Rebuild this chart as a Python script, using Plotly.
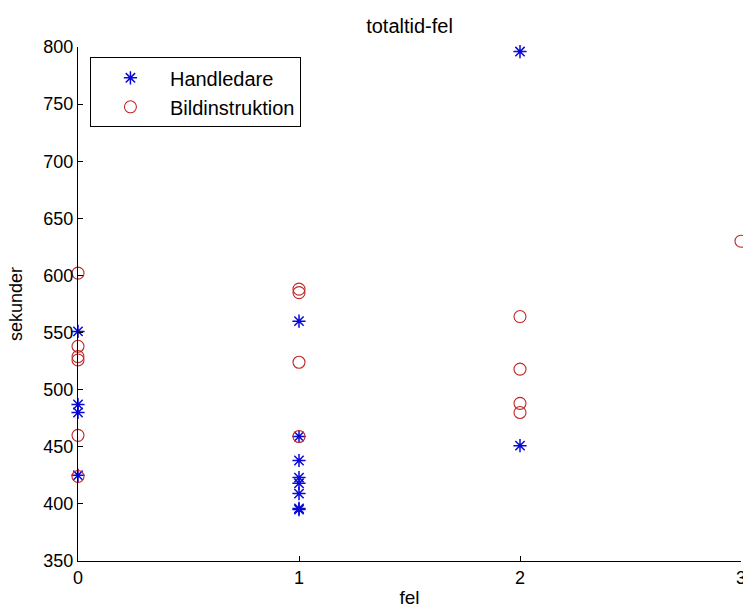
import plotly.graph_objects as go

# Data
handledare_fel = [0, 0, 0, 0, 1, 1, 1, 1, 1, 1, 1, 1, 2, 2]
handledare_tid = [551, 487, 480, 425, 560, 459, 438, 423, 418, 409, 395, 396, 796, 451]

bild_fel = [0, 0, 0, 0, 0, 0, 1, 1, 1, 1, 2, 2, 2, 2, 3]
bild_tid = [602, 538, 529, 526, 460, 424, 588, 585, 524, 459, 564, 518, 488, 480, 630]

x_ticks = [0, 1, 2, 3]
y_ticks = [350, 400, 450, 500, 550, 600, 650, 700, 750, 800]

FONT = "Liberation Sans, Arial, sans-serif"

fig = go.Figure()
fig.add_trace(go.Scatter(
    x=handledare_fel, y=handledare_tid, mode="markers", name="Handledare",
    marker=dict(symbol="asterisk-open", size=11, color="#0a0ad8",
                line=dict(color="#0a0ad8", width=1.5)),
    cliponaxis=False,
))
fig.add_trace(go.Scatter(
    x=bild_fel, y=bild_tid, mode="markers", name="Bildinstruktion",
    marker=dict(symbol="circle-open", size=12, color="#c02828",
                line=dict(color="#c02828", width=1.1)),
    cliponaxis=False,
))

axis_common = dict(
    showline=True, linecolor="black", linewidth=1, mirror=False,
    ticks="inside", ticklen=5, tickcolor="black", tickwidth=1,
    showgrid=False, zeroline=False, automargin=False,
    tickfont=dict(family=FONT, size=18, color="black"),
)

fig.update_layout(
    width=743, height=612,
    margin=dict(l=78, r=2, t=47, b=51),
    paper_bgcolor="white", plot_bgcolor="white",
    font=dict(family=FONT, size=18, color="black"),
    title=dict(text="totaltid-fel", x=0.5, xref="paper", y=0.958, yanchor="middle",
               font=dict(family=FONT, size=20, color="black")),
    xaxis=dict(range=[0, 3], tickvals=x_ticks, ticktext=[str(v) for v in x_ticks],
               ticklabeloverflow="allow",
               title=dict(text="fel", font=dict(family=FONT, size=19), standoff=4),
               **axis_common),
    yaxis=dict(range=[350, 800], tickvals=y_ticks, ticktext=[str(v) for v in y_ticks],
               title=dict(text="sekunder", font=dict(family=FONT, size=18), standoff=16),
               **axis_common),
    legend=dict(x=0.018, y=0.98, xanchor="left", yanchor="top",
                bgcolor="white", bordercolor="black", borderwidth=1,
                font=dict(family=FONT, size=20, color="black"),
                itemwidth=69),
    showlegend=True,
)

fig.write_html("out.html")
